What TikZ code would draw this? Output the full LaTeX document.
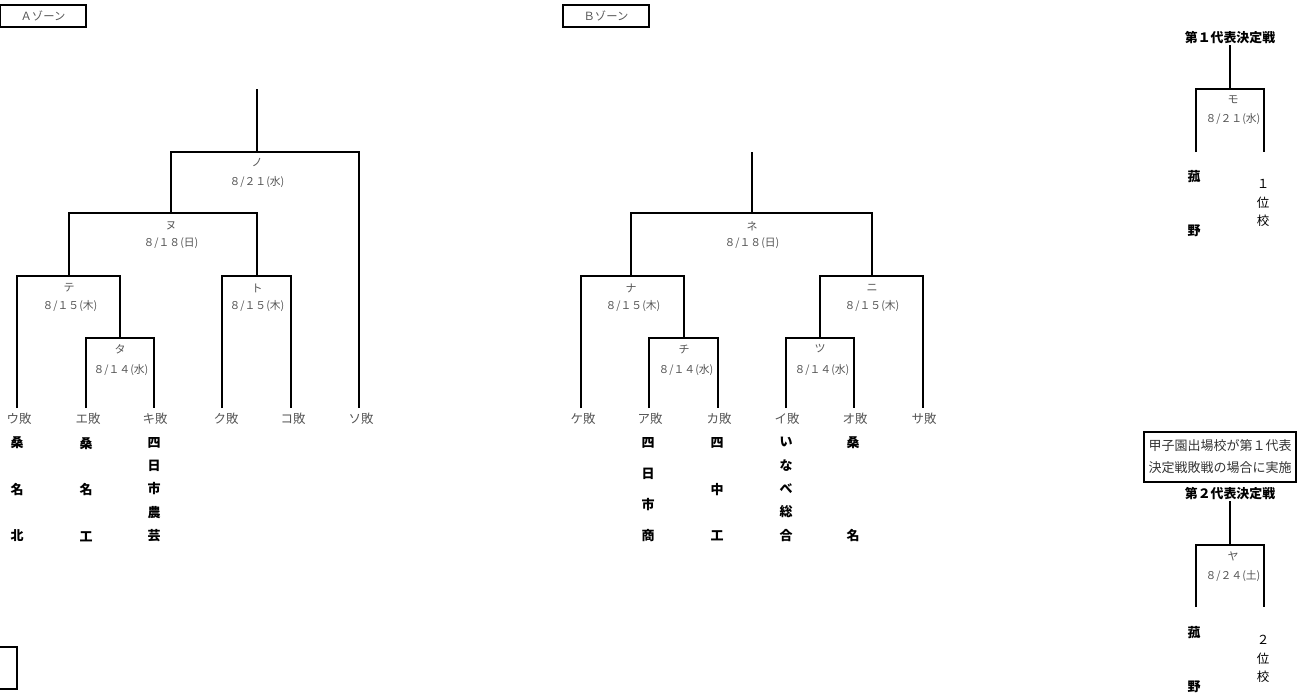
\documentclass[tikz,border=0pt]{standalone}
\usepackage{fontspec}
\setmainfont{Noto Sans CJK JP}
\usepackage{xcolor}
\definecolor{labelgray}{HTML}{555555}
\definecolor{notegray}{HTML}{333333}
\usepackage{tikz}

\begin{document}
\begin{tikzpicture}[x=1pt, y=-1pt, line width=1.8pt,
    zone/.style={draw, minimum width=86pt, minimum height=22pt, inner sep=0pt, text=labelgray, font=\fontsize{11.3}{13}\selectfont},
    lose/.style={text=labelgray, inner sep=0pt, font=\fontsize{12.5}{14}\selectfont},
    kana/.style={text=labelgray, inner sep=0pt, font=\fontsize{11}{13}\selectfont},
    day/.style={text=labelgray, inner sep=0pt, font=\fontsize{10.8}{12}\selectfont},
    team/.style={align=center, inner sep=0pt, font=\bfseries\fontsize{13}{#1}\selectfont},
    seed/.style={align=center, inner sep=0pt, font=\fontsize{12.5}{#1}\selectfont},
    final/.style={inner sep=0pt, font=\bfseries\fontsize{12.9}{14}\selectfont}]
                        \useasboundingbox (0,0) rectangle (1301,696);

                        % A zone
                        \node (azone) at (43,16) [zone] {Ａゾーン};

                        \coordinate (notop) at (257,89);
                        \coordinate (no) at (257,152);
                        \coordinate (nu) at (171,213);
                        \coordinate (te) at (69,276);
                        \coordinate (to) at (257,276);
                        \coordinate (ta) at (120,338);
                        \coordinate (uleg) at (17,408);
                        \coordinate (eleg) at (86,408);
                        \coordinate (kileg) at (154,408);
                        \coordinate (kuleg) at (222,408);
                        \coordinate (koleg) at (291,408);
                        \coordinate (soleg) at (359,408);

                        \draw (notop) -- (no);
                        \draw (nu) |- (no) -| (soleg);
                        \draw (te) |- (nu) -| (to);
                        \draw (uleg) |- (te) -| (ta);
                        \draw (eleg) |- (ta) -| (kileg);
                        \draw (kuleg) |- (to) -| (koleg);

                        \node (nolbl) at (257,162) [kana] {ノ};
                        \node (nodate) at (257,182) [day] {８/２１(水)};
                        \node (nulbl) at (171,226) [kana] {ヌ};
                        \node (nudate) at (171,243) [day] {８/１８(日)};
                        \node (telbl) at (69,288) [kana] {テ};
                        \node (tedate) at (70,306) [day] {８/１５(木)};
                        \node (talbl) at (120,349) [kana] {タ};
                        \node (tadate) at (121,370) [day] {８/１４(水)};
                        \node (tolbl) at (257,288) [kana] {ト};
                        \node (todate) at (257,306) [day] {８/１５(木)};

                        \node (ulose) at (19,419) [lose] {ウ敗};
                        \node (elose) at (88,419) [lose] {エ敗};
                        \node (kilose) at (155,419) [lose] {キ敗};
                        \node (kulose) at (226,419) [lose] {ク敗};
                        \node (kolose) at (293,419) [lose] {コ敗};
                        \node (solose) at (361,419) [lose] {ソ敗};

                        \node (uteam) at (17,489.5) [team=46.5] {桑\\名\\北};
                        \node (eteam) at (86,489.5) [team=46.5] {桑\\名\\工};
                        \node (kiteam) at (154,489.5) [team=23.3] {四\\日\\市\\農\\芸};

                        % B zone
                        \node (bzone) at (606,16) [zone] {Ｂゾーン};

                        \coordinate (netop) at (752,152);
                        \coordinate (ne) at (752,213);
                        \coordinate (na) at (631,276);
                        \coordinate (ni) at (872,276);
                        \coordinate (chi) at (684,338);
                        \coordinate (tsu) at (820,338);
                        \coordinate (keleg) at (581,408);
                        \coordinate (aleg) at (649,408);
                        \coordinate (kaleg) at (718,408);
                        \coordinate (ileg) at (786,408);
                        \coordinate (oleg) at (854,408);
                        \coordinate (saleg) at (923,408);

                        \draw (netop) -- (ne);
                        \draw (na) |- (ne) -| (ni);
                        \draw (keleg) |- (na) -| (chi);
                        \draw (aleg) |- (chi) -| (kaleg);
                        \draw (tsu) |- (ni) -| (saleg);
                        \draw (ileg) |- (tsu) -| (oleg);

                        \node (nelbl) at (752,226) [kana] {ネ};
                        \node (nedate) at (752,243) [day] {８/１８(日)};
                        \node (nalbl) at (631,288) [kana] {ナ};
                        \node (nadate) at (633,306) [day] {８/１５(木)};
                        \node (nilbl) at (872,288) [kana] {ニ};
                        \node (nidate) at (872,306) [day] {８/１５(木)};
                        \node (chilbl) at (684,349) [kana] {チ};
                        \node (chidate) at (686,370) [day] {８/１４(水)};
                        \node (tsulbl) at (820,349) [kana] {ツ};
                        \node (tsudate) at (822,370) [day] {８/１４(水)};

                        \node (kelose) at (583,419) [lose] {ケ敗};
                        \node (alose) at (650,419) [lose] {ア敗};
                        \node (kalose) at (719,419) [lose] {カ敗};
                        \node (ilose) at (787,419) [lose] {イ敗};
                        \node (olose) at (855,419) [lose] {オ敗};
                        \node (salose) at (924,419) [lose] {サ敗};

                        \node (ateam) at (648,489.5) [team=31] {四\\日\\市\\商};
                        \node (kateam) at (717,489.5) [team=46.5] {四\\中\\工};
                        \node (iteam) at (786,489.5) [team=23.3] {い\\な\\べ\\総\\合};
                        \node (oteam) at (853,489.5) [team=93] {桑\\名};

                        % representative games
                        \node (rep1) at (1230,38) [final] {第１代表決定戦};
                        \coordinate (mo) at (1230,89);
                        \coordinate (moleft) at (1196,152);
                        \coordinate (moright) at (1264,152);
                        \draw (rep1) -- (mo);
                        \draw (moleft) |- (mo) -| (moright);
                        \node (molbl) at (1233,100) [kana] {モ};
                        \node (modate) at (1233,119) [day] {８/２１(水)};
                        \node (kom1) at (1194,204) [team=54] {菰\\野};
                        \node (seed1) at (1263,203) [seed=18.5] {１\\位\\校};

                        \node (note) at (1220,457) [draw, minimum width=152, minimum height=50, align=center, inner sep=0pt, text=notegray, font=\fontsize{13}{22}\selectfont] {甲子園出場校が第１代表\\決定戦敗戦の場合に実施};
                        \node (rep2) at (1230,494) [final] {第２代表決定戦};
                        \coordinate (ya) at (1230,545);
                        \coordinate (yaleft) at (1196,607);
                        \coordinate (yaright) at (1264,607);
                        \draw (rep2) -- (ya);
                        \draw (yaleft) |- (ya) -| (yaright);
                        \node (yalbl) at (1233,556) [kana] {ヤ};
                        \node (yadate) at (1233,576) [day] {８/２４(土)};
                        \node (kom2) at (1194,660) [team=54] {菰\\野};
                        \node (seed2) at (1263,659) [seed=18.5] {２\\位\\校};

                        \node (legend) at (-7,668) [draw, minimum width=48, minimum height=42] {};
                    \end{tikzpicture}
\end{document}
